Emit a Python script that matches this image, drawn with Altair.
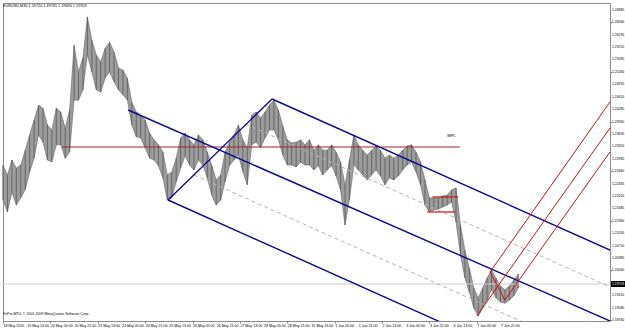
import altair as alt
import pandas as pd

# ---- price data (M30 bars, sampled every 6 bars) ----
BAR_STEP = 6
HIGH = [1.2282, 1.2256, 1.2295, 1.2274, 1.2282, 1.2321, 1.2361, 1.2400, 1.2439, 1.2431,
        1.2387, 1.2374, 1.2431, 1.2421, 1.2379, 1.2426, 1.2596, 1.2526, 1.2563, 1.2670,
        1.2610, 1.2570, 1.2552, 1.2588, 1.2604, 1.2578, 1.2536, 1.2531, 1.2510, 1.2447,
        1.2421, 1.2413, 1.2400, 1.2366, 1.2348, 1.2335, 1.2316, 1.2256, 1.2264, 1.2300,
        1.2353, 1.2366, 1.2348, 1.2335, 1.2361, 1.2348, 1.2316, 1.2282, 1.2243, 1.2256,
        1.2316, 1.2342, 1.2361, 1.2387, 1.2348, 1.2327, 1.2413, 1.2421, 1.2405, 1.2421,
        1.2439, 1.2452, 1.2426, 1.2384, 1.2348, 1.2340, 1.2342, 1.2348, 1.2335, 1.2348,
        1.2321, 1.2335, 1.2321, 1.2321, 1.2335, 1.2316, 1.2290, 1.2230, 1.2295, 1.2361,
        1.2335, 1.2321, 1.2308, 1.2321, 1.2332, 1.2321, 1.2300, 1.2308, 1.2300, 1.2308,
        1.2321, 1.2332, 1.2335, 1.2316, 1.2290, 1.2243, 1.2196, 1.2196, 1.2196, 1.2201,
        1.2203, 1.2217, 1.2222, 1.2125, 1.2059, 1.2012, 1.1960, 1.1934, 1.1960, 1.1986,
        1.2007, 1.1986, 1.1965, 1.1955, 1.1965, 1.1981, 1.1996]
LOW = [1.2190, 1.2159, 1.2211, 1.2177, 1.2196, 1.2217, 1.2264, 1.2300, 1.2361, 1.2342,
       1.2295, 1.2290, 1.2335, 1.2335, 1.2300, 1.2316, 1.2452, 1.2452, 1.2479, 1.2570,
       1.2526, 1.2479, 1.2473, 1.2510, 1.2526, 1.2500, 1.2479, 1.2466, 1.2452, 1.2387,
       1.2356, 1.2353, 1.2327, 1.2300, 1.2295, 1.2280, 1.2248, 1.2190, 1.2196, 1.2238,
       1.2274, 1.2306, 1.2282, 1.2269, 1.2295, 1.2282, 1.2248, 1.2203, 1.2177, 1.2190,
       1.2238, 1.2280, 1.2295, 1.2308, 1.2264, 1.2230, 1.2335, 1.2342, 1.2327, 1.2353,
       1.2374, 1.2374, 1.2348, 1.2308, 1.2282, 1.2282, 1.2277, 1.2290, 1.2282, 1.2282,
       1.2269, 1.2280, 1.2256, 1.2269, 1.2280, 1.2253, 1.2217, 1.2125, 1.2190, 1.2282,
       1.2269, 1.2256, 1.2243, 1.2256, 1.2269, 1.2253, 1.2230, 1.2248, 1.2243, 1.2253,
       1.2269, 1.2282, 1.2290, 1.2264, 1.2230, 1.2177, 1.2159, 1.2164, 1.2167, 1.2172,
       1.2177, 1.2185, 1.2133, 1.2046, 1.1986, 1.1949, 1.1907, 1.1886, 1.1907, 1.1928,
       1.1955, 1.1934, 1.1923, 1.1920, 1.1928, 1.1939, 1.1960]

TIME_LABELS = ["18 May 2010", "19 May 13:00", "20 May 05:00", "20 May 21:00", "21 May 13:00",
               "24 May 05:00", "24 May 21:00", "25 May 13:00", "26 May 05:00", "26 May 21:00",
               "27 May 13:00", "28 May 05:00", "28 May 21:00", "31 May 13:00", "1 Jun 05:00",
               "1 Jun 21:00", "2 Jun 13:00", "3 Jun 05:00", "3 Jun 21:00", "4 Jun 13:00",
               "7 Jun 05:00", "7 Jun 21:00"]
TIME_TICKS = [0, 32, 64, 96, 128, 160, 192, 224, 256, 288, 320, 352, 384, 416, 448,
              480, 512, 544, 576, 608, 640, 672]
PRICE_TICKS = [1.26885, 1.26560, 1.26235, 1.25910, 1.25585, 1.25260, 1.24935, 1.24610,
               1.24285, 1.23960, 1.23635, 1.23310, 1.22985, 1.22660, 1.22335, 1.22010,
               1.21685, 1.21360, 1.21035, 1.20710, 1.20385, 1.20060, 1.19735, 1.19410,
               1.19085, 1.18760]

TITLE = "EURUSD,M30  1.19720 1.19745 1.19690 1.19703"
COPYRIGHT = "FxPro MT4, \u00a9 2001-2009 MetaQuotes Software Corp."
CURRENT_PRICE = 1.19703

# ---- drawn objects: (kind, bar1, price1, bar2, price2) ----
SEGMENTS = [
    ("mpl", 80, 1.23293, 617, 1.23293),
    ("channel", 223, 1.21904, 363.5, 1.24550),
    ("channel", 363.5, 1.24550, 820, 1.20594),
    ("channel", 223, 1.21904, 820, 1.16716),
    ("trend", 169, 1.24262, 820, 1.18734),
    ("quarter", 328, 1.23895, 820, 1.19625),
    ("quarter", 258, 1.22559, 820, 1.17686),
    ("box", 580, 1.21983, 615, 1.21983),
    ("box", 573, 1.21590, 611, 1.21590),
    ("fork", 658, 1.20018, 820, 1.24472),
    ("fork", 640, 1.18865, 820, 1.23790),
    ("fork", 678, 1.19284, 820, 1.23162),
    ("fork", 658, 1.20018, 678, 1.19284),
]
LABELS = [("MPL", 600, 1.23581)]

price = pd.DataFrame({
    "bar": [i * BAR_STEP for i in range(len(HIGH))],
    "high": HIGH,
    "low": LOW,
})
seg = pd.DataFrame(SEGMENTS, columns=["kind", "t1", "p1", "t2", "p2"])
lab = pd.DataFrame(LABELS, columns=["text", "t", "p"])
tlab = pd.DataFrame({"bar": TIME_TICKS, "text": TIME_LABELS})
plab = pd.DataFrame({"p": PRICE_TICKS})

FONT = "Liberation Sans"
W, H = 607, 318
xs = alt.Scale(domain=[0, 820], nice=False, zero=False)
ys = alt.Scale(domain=[1.18734, 1.27065], nice=False, zero=False)

x_axis = alt.Axis(values=TIME_TICKS, labels=False, title=None, grid=False,
                  domain=False, tickSize=2, tickColor="#808080")
y_axis = alt.Axis(values=PRICE_TICKS, labels=False, orient="right", title=None, grid=False,
                  domain=False, tickSize=1.5, tickColor="#808080")

X0 = dict(scale=xs, title=None)
Y0 = dict(scale=ys, title=None)

band = alt.Chart(price).mark_area(color="#9c9c9c", opacity=1,
                                  stroke="#6a6a6a", strokeWidth=0.6).encode(
    x=alt.X("bar:Q", scale=xs, axis=x_axis),
    y=alt.Y("low:Q", scale=ys, axis=y_axis),
    y2="high:Q",
)
bars = alt.Chart(price).mark_rule(color="#5a5a5a", strokeWidth=0.8).encode(
    x=alt.X("bar:Q", **X0),
    y=alt.Y("low:Q", **Y0),
    y2="high:Q",
)

bid = alt.Chart(pd.DataFrame({"p": [CURRENT_PRICE]})).mark_rule(
    color="#cfcfcf", strokeWidth=1).encode(
    y=alt.Y("p:Q", **Y0))


def seg_layer(kind, color, width, dash=None):
    kw = dict(color=color, strokeWidth=width, clip=True)
    if dash:
        kw["strokeDash"] = dash
    return alt.Chart(seg).transform_filter(alt.datum.kind == kind).mark_rule(**kw).encode(
        x=alt.X("t1:Q", **X0), x2="t2:Q",
        y=alt.Y("p1:Q", **Y0), y2="p2:Q")


quarter = seg_layer("quarter", "#b4b4b4", 1, [4, 3])
mpl = seg_layer("mpl", "#9e2a2a", 1.2)
channel = seg_layer("channel", "#0a0a8c", 1.4)
trend = seg_layer("trend", "#0a0a8c", 1.4)
box = seg_layer("box", "#c81414", 1.2)
fork = seg_layer("fork", "#c81414", 1)

mpl_text = alt.Chart(lab).mark_text(align="left", baseline="middle", fontSize=4.2,
                                    font=FONT, color="#000").encode(
    x=alt.X("t:Q", **X0), y=alt.Y("p:Q", **Y0), text="text:N")

title = alt.Chart(pd.DataFrame({"t": [TITLE]})).mark_text(
    align="left", baseline="top", fontSize=3.8, font=FONT, color="#000").encode(
    x=alt.value(0), y=alt.value(1), text="t:N")

copy = alt.Chart(pd.DataFrame({"t": [COPYRIGHT]})).mark_text(
    align="left", baseline="middle", fontSize=3.6, font=FONT, color="#000").encode(
    x=alt.value(0), y=alt.value(311), text="t:N")

time_text = alt.Chart(tlab).mark_text(
    align="left", baseline="top", fontSize=3.6, font=FONT, color="#000", dx=0.5).encode(
    x=alt.X("bar:Q", **X0), y=alt.value(H + 2.5), text="text:N")

price_text = alt.Chart(plab).mark_text(
    align="left", baseline="middle", fontSize=3.4, font=FONT, color="#000").encode(
    x=alt.value(W + 2), y=alt.Y("p:Q", **Y0), text=alt.Text("p:Q", format=".5f"))

cur_box = alt.Chart(pd.DataFrame({"p": [CURRENT_PRICE]})).mark_rule(
    color="#000", strokeWidth=6).encode(
    x=alt.value(W + 1), x2=alt.value(W + 15), y=alt.Y("p:Q", **Y0))
cur_txt = alt.Chart(pd.DataFrame({"p": [CURRENT_PRICE]})).mark_text(
    align="left", baseline="middle", fontSize=3.4, font=FONT, color="#fff").encode(
    x=alt.value(W + 2), y=alt.Y("p:Q", **Y0),
    text=alt.Text("p:Q", format=".5f"))

chart = alt.layer(
    band, bars, bid, quarter, mpl, channel, trend, box, fork, mpl_text, title, copy,
    time_text, price_text, cur_box, cur_txt
).properties(
    width=W, height=H,
    padding={"left": 3, "top": 3, "right": 15, "bottom": 8},
    autosize=alt.AutoSizeParams(type="none"),
    background="#ffffff",
).configure_view(stroke="#8c8c8c", strokeWidth=1)

chart.save("out.html", embed_options={"renderer": "svg", "actions": False})
